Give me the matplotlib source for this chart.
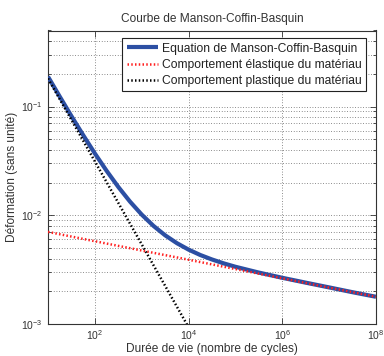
import matplotlib
matplotlib.use("Agg")
import matplotlib.pyplot as plt
from matplotlib.ticker import LogLocator, NullLocator, NullFormatter

plt.rcParams['font.family'] = ['Liberation Sans', 'DejaVu Sans']
plt.rcParams['mathtext.fontset'] = 'custom'
plt.rcParams['mathtext.rm'] = 'Liberation Sans'
plt.rcParams['mathtext.it'] = 'Liberation Sans:italic'
plt.rcParams['mathtext.bf'] = 'Liberation Sans:bold'

# Data
n_total = [1e1, 10**1.25, 10**1.5, 10**1.75, 1e2, 10**2.25, 10**2.5, 10**2.75,
           1e3, 10**3.25, 10**3.5, 10**3.75, 1e4, 10**4.25, 10**4.5, 10**4.75,
           1e5, 10**5.5, 1e6, 10**6.5, 1e7, 10**7.5, 1e8]
eps_total = [0.1882, 0.1235, 0.0816, 0.0546, 0.0370, 0.02565, 0.01822, 0.01335,
             0.01014, 0.00799, 0.00654, 0.00554, 0.00483, 0.00431, 0.00392, 0.00361,
             0.00336, 0.00297, 0.00266, 0.00240, 0.00217, 0.00196, 0.00178]

n_elastic = [1e1, 1e2, 1e3, 1e4, 1e5, 1e6, 1e7, 1e8]
eps_elastic = [0.00703, 0.00577, 0.00474, 0.00390, 0.00320, 0.00263, 0.00216, 0.00178]

n_plastic = [1e1, 1e2, 1e3, 1e4, 1e5]
eps_plastic = [0.1811, 0.0313, 0.00540, 0.000931, 0.000161]

labels = ['Equation de Manson-Coffin-Basquin',
          'Comportement élastique du matériau',
          'Comportement plastique du matériau']

W, H = 384, 356
fig = plt.figure(figsize=(W/100, H/100), dpi=100)
l, r, t, b = 48, 376, 30.5, 324
ax = fig.add_axes([l/W, 1-b/H, (r-l)/W, (b-t)/H])

ax.plot(n_total, eps_total, color='#2c4fa3', lw=3.0, label=labels[0], solid_capstyle='butt', zorder=3)
ax.plot(n_elastic, eps_elastic, color='#ff2020', lw=1.8, ls=(0, (0.6, 0.9)), label=labels[1], zorder=4)
ax.plot(n_plastic, eps_plastic, color='black', lw=1.8, ls=(0, (0.6, 0.9)), label=labels[2], zorder=4)

ax.set_xscale('log')
ax.set_yscale('log')
ax.set_xlim(1e1, 1e8)
ax.set_ylim(1e-3, 0.5)

ax.set_xticks([1e2, 1e4, 1e6, 1e8])
ax.xaxis.set_minor_locator(NullLocator())
ax.set_yticks([1e-3, 1e-2, 1e-1])
ax.yaxis.set_minor_locator(LogLocator(base=10, subs=tuple(range(2, 10)), numticks=20))
ax.yaxis.set_minor_formatter(NullFormatter())

ax.grid(True, which='major', axis='both', color='#666666', lw=0.6, ls=(0, (1, 2.2)))
ax.grid(True, which='minor', axis='y', color='#666666', lw=0.6, ls=(0, (1, 2.2)))
ax.set_axisbelow(True)

ax.tick_params(which='both', direction='in', top=True, right=True, labelsize=7.5,
               color='#333333', labelcolor='#333333', width=0.6)
ax.tick_params(which='major', length=4.5)
ax.tick_params(axis='x', which='major', pad=3)
ax.tick_params(axis='y', which='major', pad=4)
ax.tick_params(which='minor', length=2.5)
for s in ax.spines.values():
    s.set_color('#333333')
    s.set_linewidth(0.8)

ax.set_title('Courbe de Manson-Coffin-Basquin', fontsize=8.6, color='#333333', pad=6)
ax.set_xlabel('Durée de vie (nombre de cycles)', fontsize=8.6, color='#333333', labelpad=1)
ax.set_ylabel('Déformation (sans unité)', fontsize=8.6, color='#333333', labelpad=2)

leg = ax.legend(loc='upper right', bbox_to_anchor=(0.9686, 0.9734), borderaxespad=0,
                fontsize=8.7, frameon=True, fancybox=False, framealpha=1,
                edgecolor='#222222', handlelength=2.6, handletextpad=0.3,
                borderpad=0.35, labelspacing=0.35)
leg.get_frame().set_linewidth(0.8)
for txt in leg.get_texts():
    txt.set_color('#222222')

fig.savefig('out.png', dpi=100)
